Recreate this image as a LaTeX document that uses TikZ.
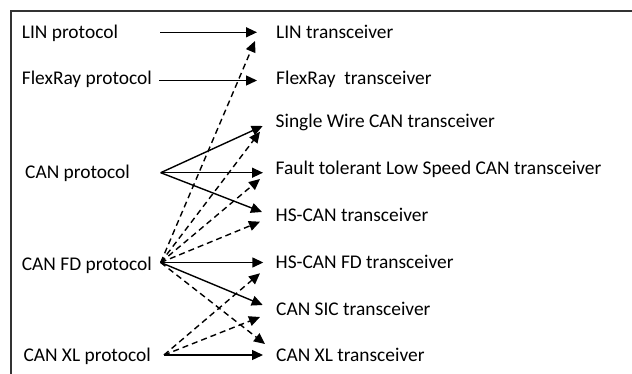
\documentclass[tikz,border=0pt]{standalone}
\usepackage{fontspec}
\setmainfont{Carlito}
\usetikzlibrary{arrows.meta}
\begin{document}
\begin{tikzpicture}[x=1pt,y=-1pt,
  lbl/.style={anchor=base west,inner sep=0pt,font=\fontsize{19.4}{23}\selectfont},
  conn/.style={line width=1.4pt,-{Triangle[length=11pt,width=10pt]}},
  dconn/.style={conn,dash pattern=on 6pt off 4pt}]
\useasboundingbox (0,0) rectangle (632,374);
\draw[line width=1.5pt,black!80] (11,374) -- (11,11) -- (632,11);
% left labels
\node[lbl] (lin) at (21.7,38.3) {LIN protocol};
\node[lbl] (flex) at (21.7,85) {FlexRay protocol};
\node[lbl] (can) at (25,178.3) {CAN protocol};
\node[lbl] (canfd) at (21.7,270) {CAN FD protocol};
\node[lbl] (canxl) at (23.3,361.7) {CAN XL protocol};
% right labels
\node[lbl] (tlin) at (276,38.3) {LIN transceiver};
\node[lbl] (tflex) at (276,85) {FlexRay\ \ transceiver};
\node[lbl] (tsw) at (275.5,128) {Single Wire CAN transceiver};
\node[lbl] (tft) at (275.5,175) {Fault tolerant Low Speed CAN transceiver};
\node[lbl] (ths) at (275.5,221.7) {HS-CAN transceiver};
\node[lbl] (thsfd) at (275.5,268.3) {HS-CAN FD transceiver};
\node[lbl] (tsic) at (276,315) {CAN SIC transceiver};
\node[lbl] (txl) at (276,361.7) {CAN XL transceiver};
% connector end points
\coordinate (linS) at (160,32.3);
\coordinate (linT) at (257,32.3);
\coordinate (flexS) at (159,80.5);
\coordinate (flexT) at (257,80.5);
\coordinate (canH) at (160.7,172.7);
\coordinate (fdH) at (160.7,262.5);
\coordinate (xlH) at (164,355);
\coordinate (linD) at (255,41);
\coordinate (swS) at (262.7,126);
\coordinate (swD) at (260,131.7);
\coordinate (ftS) at (263,172.7);
\coordinate (ftD) at (260,179);
\coordinate (hsS) at (262,212);
\coordinate (hsD) at (260,221.7);
\coordinate (hsfdS) at (263.3,262.5);
\coordinate (hsfdD) at (260,273.3);
\coordinate (sicS) at (262.7,305);
\coordinate (sicD) at (260,317);
\coordinate (xlS) at (263,355);
\coordinate (xlD) at (265,344);
% connectors
\draw[conn] (linS) -- (linT);
\draw[conn] (flexS) -- (flexT);
\draw[conn] (canH) -- (swS);
\draw[conn] (canH) -- (ftS);
\draw[conn] (canH) -- (hsS);
\draw[dconn] (fdH) -- (linD);
\draw[dconn] (fdH) -- (swD);
\draw[dconn] (fdH) -- (ftD);
\draw[dconn] (fdH) -- (hsD);
\draw[conn] (fdH) -- (hsfdS);
\draw[conn] (fdH) -- (sicS);
\draw[dconn] (fdH) -- (xlD);
\draw[dconn] (xlH) -- (hsfdD);
\draw[dconn] (xlH) -- (sicD);
\draw[conn] (xlH) -- (xlS);
\end{tikzpicture}
\end{document}
